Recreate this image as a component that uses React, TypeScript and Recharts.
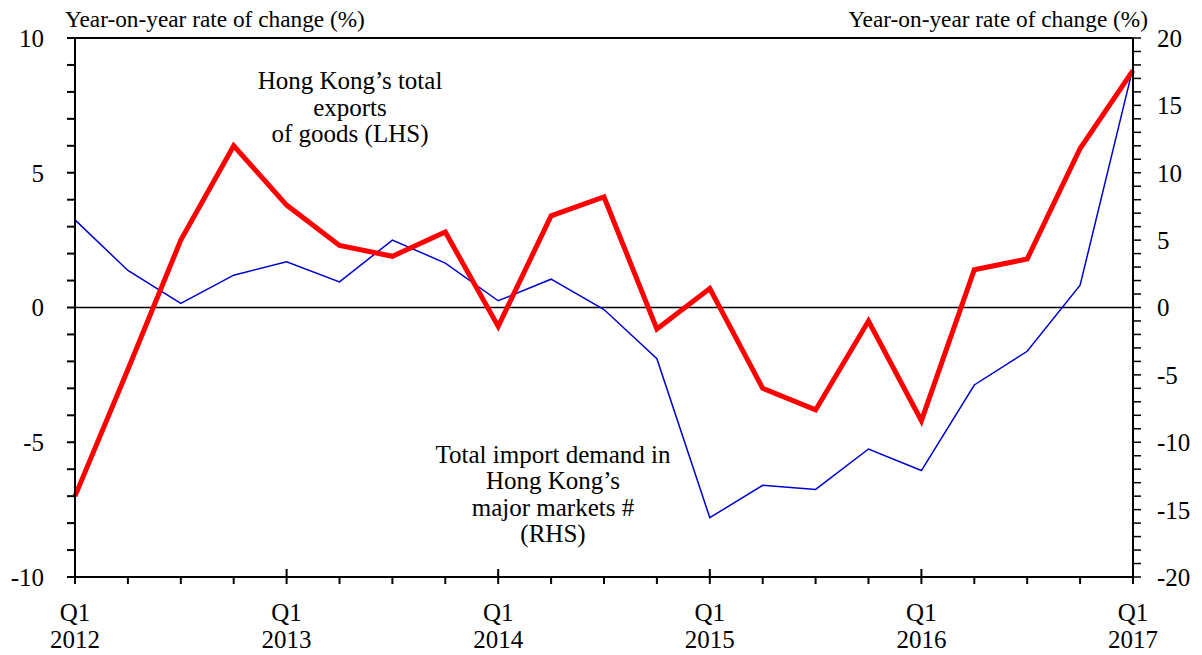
import React from "react";
import { LineChart, Line, XAxis, YAxis, ReferenceLine } from "recharts";

const quarters = [
  "Q1 2012", "Q2 2012", "Q3 2012", "Q4 2012",
  "Q1 2013", "Q2 2013", "Q3 2013", "Q4 2013",
  "Q1 2014", "Q2 2014", "Q3 2014", "Q4 2014",
  "Q1 2015", "Q2 2015", "Q3 2015", "Q4 2015",
  "Q1 2016", "Q2 2016", "Q3 2016", "Q4 2016",
  "Q1 2017",
];

const hkExports = [
  -7.0, -2.3, 2.5, 6.0,
  3.8, 2.3, 1.9, 2.8,
  -0.7, 3.4, 4.1, -0.8,
  0.7, -3.0, -3.8, -0.5,
  -4.2, 1.4, 1.8, 5.9,
  8.8,
];

const importDemand = [
  6.5, 2.75, 0.3, 2.4,
  3.4, 1.9, 5.0, 3.3,
  0.5, 2.1, -0.15, -3.8,
  -15.6, -13.2, -13.5, -10.5,
  -12.1, -5.75, -3.25, 1.65,
  17.8,
];

const leftTicks = [-10, -9, -8, -7, -6, -5, -4, -3, -2, -1, 0, 1, 2, 3, 4, 5, 6, 7, 8, 9, 10];
const rightTicks = [
  -20, -19, -18, -17, -16, -15, -14, -13, -12, -11, -10, -9, -8, -7, -6, -5, -4, -3, -2, -1,
  0, 1, 2, 3, 4, 5, 6, 7, 8, 9, 10, 11, 12, 13, 14, 15, 16, 17, 18, 19, 20,
];

const axisTitle = "Year-on-year rate of change (%)";
const exportsNote = ["Hong Kong\u2019s total", "exports", "of goods (LHS)"];
const demandNote = ["Total import demand in", "Hong Kong\u2019s", "major markets #", "(RHS)"];

const data = quarters.map((q, i) => ({ q, exp: hkExports[i], imp: importDemand[i] }));

const FONT = "'Liberation Serif', 'Times New Roman', serif";

const fmt = (v: number) => (v % 5 === 0 ? String(v) : "");

const XTick = (props: any) => {
  const { x, y, payload } = props;
  const label: string = payload.value;
  const isQ1 = label.startsWith("Q1");
  const [q, yr] = label.split(" ");
  return (
    <g>
      <line x1={x} x2={x} y1={isQ1 ? y - 8 : y} y2={y + 7} stroke="#000" strokeWidth={2} />
      {isQ1 && (
        <>
          <text x={x} y={y + 44} textAnchor="middle" fontFamily={FONT} fontSize={25} fill="#000">
            {q}
          </text>
          <text x={x} y={y + 71} textAnchor="middle" fontFamily={FONT} fontSize={25} fill="#000">
            {yr}
          </text>
        </>
      )}
    </g>
  );
};

export default function App() {
  return (
    <div style={{ position: "absolute", left: 0, top: 0, width: 1202, height: 655, background: "#fff" }}>
      <LineChart
        width={1202}
        height={655}
        data={data}
        margin={{ top: 38, right: 9, bottom: 18, left: 15 }}
      >
        <XAxis
          dataKey="q"
          interval={0}
          tickSize={0}
          tickMargin={0}
          height={60}
          tick={<XTick />}
          axisLine={{ stroke: "#000", strokeWidth: 2 }}
        />
        <YAxis
          yAxisId="L"
          orientation="left"
          width={60}
          domain={[-10, 10]}
          ticks={leftTicks}
          interval={0}
          tickFormatter={fmt}
          tickSize={8}
          tickMargin={23}
          axisLine={{ stroke: "#000", strokeWidth: 2 }}
          tickLine={{ stroke: "#000", strokeWidth: 2 }}
          tick={{ fill: "#000", fontSize: 25, fontFamily: FONT }}
        />
        <YAxis
          yAxisId="R"
          orientation="right"
          width={60}
          domain={[-20, 20]}
          ticks={rightTicks}
          interval={0}
          tickFormatter={fmt}
          tickSize={8}
          tickMargin={16}
          axisLine={{ stroke: "#000", strokeWidth: 2 }}
          tickLine={{ stroke: "#000", strokeWidth: 1.5 }}
          tick={{ fill: "#000", fontSize: 25, fontFamily: FONT }}
        />
        <ReferenceLine yAxisId="L" y={10} stroke="#000" strokeWidth={2} />
        <ReferenceLine yAxisId="L" y={0} stroke="#000" strokeWidth={1.5} />
        <Line
          yAxisId="R"
          dataKey="imp"
          stroke="#0000CC"
          strokeWidth={1.5}
          dot={false}
          isAnimationActive={false}
        />
        <Line
          yAxisId="L"
          dataKey="exp"
          stroke="#FF0000"
          strokeWidth={5}
          dot={false}
          isAnimationActive={false}
        />
        <text x={65} y={27} fontFamily={FONT} fontSize={23.3} fill="#000">
          {axisTitle}
        </text>
        <text x={1148} y={27} textAnchor="end" fontFamily={FONT} fontSize={23.3} fill="#000">
          {axisTitle}
        </text>
        {exportsNote.map((t, i) => (
          <text key={t} x={350} y={89 + i * 26.5} textAnchor="middle" fontFamily={FONT} fontSize={25} fill="#000">
            {t}
          </text>
        ))}
        {demandNote.map((t, i) => (
          <text key={t} x={553} y={463 + i * 26.3} textAnchor="middle" fontFamily={FONT} fontSize={25} fill="#000">
            {t}
          </text>
        ))}
      </LineChart>
    </div>
  );
}
